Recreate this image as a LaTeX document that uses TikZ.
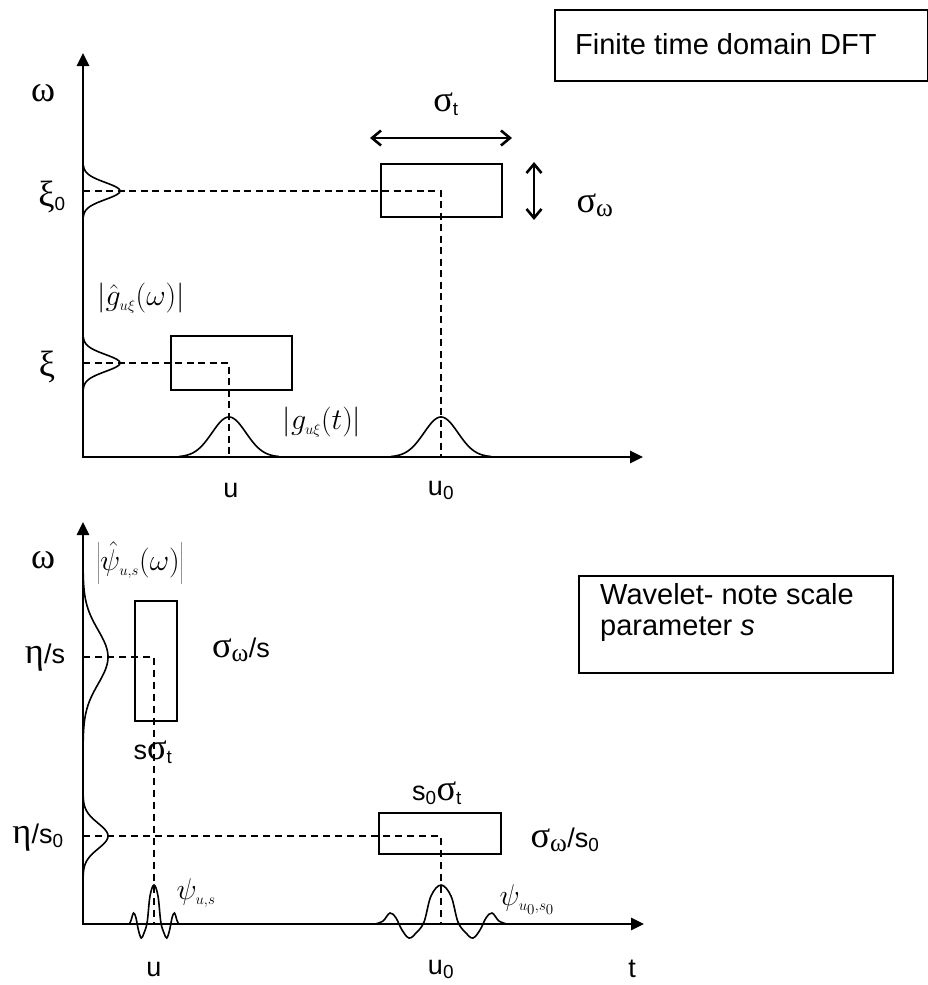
\RequirePackage{fix-cm}
\documentclass[tikz,border=0pt]{standalone}
\usepackage{fontspec}
\setmainfont{Liberation Sans}
\newfontfamily\gk[Scale=1.35]{Liberation Serif}
\usetikzlibrary{arrows.meta}
\begin{document}
\begin{tikzpicture}[x=1pt,y=-1pt,
 axisline/.style={line width=2.6pt,{Triangle[length=13pt,width=12pt]}-{Triangle[length=13pt,width=12pt]}},
 tfbox/.style={draw,line width=2.6pt,inner sep=0pt},
 dsh/.style={line width=2.2pt,dash pattern=on 7pt off 4.5pt},
 dshb/.style={line width=1.5pt,dash pattern=on 7pt off 5pt},
 crv/.style={line width=1.6pt},
 lab/.style={font=\fontsize{27}{30}\selectfont,inner sep=0pt},
 mlab/.style={font=\fontsize{30}{34}\selectfont,inner sep=0pt},
 dbl/.style={line width=2.6pt,{Straight Barb[length=9pt,width=15pt]}-{Straight Barb[length=9pt,width=15pt]}},
 notebox/.style={draw,line width=1.5pt,inner sep=0pt},
 notetxt/.style={font=\fontsize{29}{31}\selectfont,inner sep=0pt,align=left}
]
\useasboundingbox (0,0) rectangle (928,985);

% ---------------- top panel ----------------
\coordinate (Y1) at (83,53);
\coordinate (O1) at (83,457);
\coordinate (X1) at (643,457);
\draw[axisline] (Y1) -- (O1) -- (X1);

\node[tfbox,minimum width=121pt,minimum height=53pt] (B0) at (441.5,190.5) {};
\node[tfbox,minimum width=121pt,minimum height=54pt] (B1) at (231.5,363) {};

\coordinate (a0) at (83,191);
\coordinate (c0) at (441,191);
\coordinate (t0) at (441,457);
\draw[dsh] (a0) -- (c0) -- (t0);
\coordinate (a1) at (83,363);
\coordinate (c1) at (229,363);
\coordinate (t1) at (229,457);
\draw[dsh] (a1) -- (c1) -- (t1);

\begin{scope}[shift={(83,191)}]
 \draw[crv] plot[domain=-26:26,samples=60] ({37*exp(-\x*\x/144)},\x);
\end{scope}
\begin{scope}[shift={(83,363)}]
 \draw[crv] plot[domain=-26:26,samples=60] ({37*exp(-\x*\x/144)},\x);
\end{scope}
\begin{scope}[shift={(229,457)}]
 \draw[crv] plot[domain=-50:50,samples=80] (\x,{-40*exp(-\x*\x/576)});
\end{scope}
\begin{scope}[shift={(441,457)}]
 \draw[crv] plot[domain=-50:50,samples=80] (\x,{-40*exp(-\x*\x/576)});
\end{scope}

\coordinate (st1) at (370,138);
\coordinate (st2) at (512,138);
\draw[dbl] (st1) -- (st2);
\coordinate (sw1) at (534,162);
\coordinate (sw2) at (534,220);
\draw[dbl] (sw1) -- (sw2);

\node[lab] (lw1) at (43,93) {\gk ω};
\node[lab] (lxi0) at (52,197) {{\gk ξ}\textsubscript{0}};
\node[lab] (lxi) at (47,367) {\gk ξ};
\node[mlab] (lgw) at (141,298) {$\left|\hat g_{\scriptscriptstyle u\xi}(\omega)\right|$};
\node[mlab] (lgt) at (322,422) {$\left|g_{\scriptscriptstyle u\xi}(t)\right|$};
\node[lab] (lst) at (446,104) {{\gk σ}\textsubscript{t}};
\node[lab] (lsw) at (595,205) {{\gk σ}\textsubscript{\gk ω}};
\node[lab] (lu1) at (231,490) {u};
\node[lab] (lu01) at (441,490) {u\textsubscript{0}};

\node[notebox,minimum width=373pt,minimum height=71pt,anchor=north west] (dft) at (554,9) {};
\node[notetxt,anchor=west] (dfttxt) at (575,44) {Finite time domain DFT};

% ---------------- bottom panel ----------------
\coordinate (Y2) at (83,522);
\coordinate (O2) at (83,924);
\coordinate (X2) at (644,924);
\draw[axisline] (Y2) -- (O2) -- (X2);

\node[tfbox,minimum width=42pt,minimum height=120pt] (B2) at (156,661) {};
\node[tfbox,minimum width=122pt,minimum height=41pt] (B3) at (440,833.5) {};

\coordinate (a2) at (83,657);
\coordinate (c2) at (154,657);
\coordinate (t2) at (154,924);
\draw[dshb] (a2) -- (c2) -- (t2);
\coordinate (a3) at (83,836);
\coordinate (c3) at (441,836);
\coordinate (t3) at (441,924);
\draw[dshb] (a3) -- (c3) -- (t3);

\begin{scope}[shift={(83,657)}]
 \draw[crv] plot[domain=-86:100,samples=100] ({25*exp(-\x*\x/1444)},\x);
\end{scope}
\begin{scope}[shift={(83,836)}]
 \draw[crv] plot[domain=-45:45,samples=70] ({25*exp(-\x*\x/324)},\x);
\end{scope}

\begin{scope}[shift={(441,924)},yscale=-1]
 \draw[crv] plot[smooth,tension=0.6] coordinates {(-66,0) (-58,3) (-51,11) (-45,6) (-39,-6) (-32,-14) (-25,-9) (-17,2) (-10,28) (0,39) (10,28) (17,2) (25,-9) (32,-14) (39,-6) (45,6) (51,11) (58,3) (66,0)};
\end{scope}
\begin{scope}[shift={(154,924)},yscale=-1,xscale=0.4]
 \draw[crv] plot[smooth,tension=0.6] coordinates {(-62,0) (-58,3) (-51,11) (-45,6) (-39,-6) (-32,-14) (-25,-9) (-17,2) (-10,28) (0,39) (10,28) (17,2) (25,-9) (32,-14) (39,-6) (45,6) (51,11) (58,3) (62,0)};
\end{scope}

\node[lab] (lw2) at (43,560) {\gk ω};
\node[mlab] (lpsi) at (140,563) {$\left|\hat\psi_{\scriptscriptstyle u,s}(\omega)\right|$};
\node[lab] (les) at (45,658) {{\gk η}/s};
\node[lab] (les0) at (38,838) {{\gk η}/s\textsubscript{0}};
\node[lab] (lsws) at (241,650) {{\gk σ}\textsubscript{\gk ω}/s};
\node[lab] (lsst) at (153,752) {s{\gk σ}\textsubscript{t}};
\node[lab] (ls0st) at (437,793) {s\textsubscript{0}{\gk σ}\textsubscript{t}};
\node[lab] (lsws0) at (565,840) {{\gk σ}\textsubscript{\gk ω}/s\textsubscript{0}};
\node[mlab] (lpus) at (196,893) {$\psi_{\scriptscriptstyle u,s}$};
\node[mlab] (lpu0) at (527,900) {$\psi_{\scriptscriptstyle u_0,s_0}$};
\node[lab] (lu2) at (154,969) {u};
\node[lab] (lu02) at (441,969) {u\textsubscript{0}};
\node[lab] (lt) at (632,969) {t};

\node[notebox,minimum width=314pt,minimum height=97pt,anchor=north west] (wbox) at (578,575) {};
\node[notetxt,anchor=west] (wtxt) at (600,612) {Wavelet- note scale\\parameter \textit{s}};
\end{tikzpicture}
\end{document}
